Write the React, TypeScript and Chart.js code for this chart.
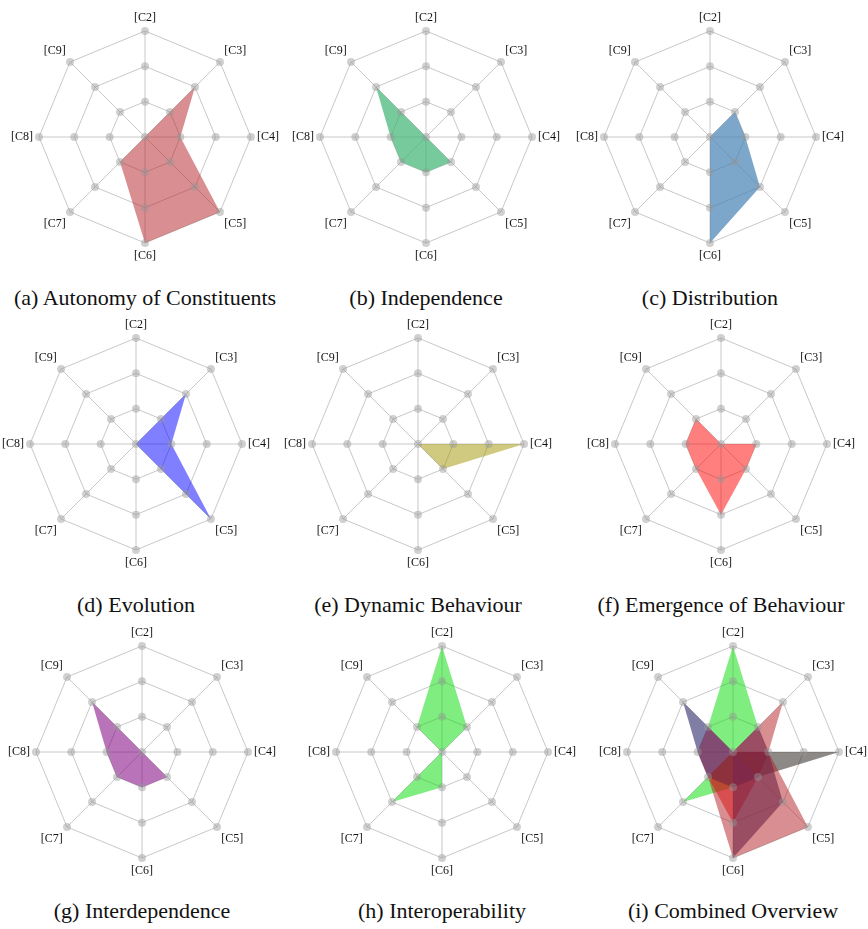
import React, { useEffect, useRef } from "react";
import { Chart, registerables } from "chart.js";

Chart.register(...registerables);

// ---------- data ----------
const AXES = ["[C2]", "[C3]", "[C4]", "[C5]", "[C6]", "[C7]", "[C8]", "[C9]"];
const RING_VALUES = [0, 1, 2, 3];

const autonomy = [0, 2, 1, 3, 3, 1, 0, 0];
const independence = [0, 0, 0, 1, 1, 1, 1, 2];
const distribution = [0, 1, 1, 2, 3, 0, 0, 0];
const evolution = [0, 2, 1, 3, 0, 0, 0, 0];
const dynamicBehaviour = [0, 0, 3, 1, 0, 0, 0, 0];
const emergence = [0, 0, 1, 1, 2, 1, 1, 1];
const interdependence = [0, 0, 0, 1, 1, 1, 1, 2];
const interoperability = [3, 1, 0, 0, 1, 2, 0, 1];

const CAPTIONS = [
  ["(a)", "Autonomy of Constituents"],
  ["(b)", "Independence"],
  ["(c)", "Distribution"],
  ["(d)", "Evolution"],
  ["(e)", "Dynamic Behaviour"],
  ["(f)", "Emergence of Behaviour"],
  ["(g)", "Interdependence"],
  ["(h)", "Interoperability"],
  ["(i)", "Combined Overview"],
];

// ---------- styles ----------
const C_AUTONOMY = "rgba(180,30,35,0.5)";
const C_INDEP = "rgba(60,179,113,0.7)";
const C_DISTR = "rgba(70,130,180,0.7)";
const C_EVOL = "rgba(0,0,255,0.5)";
const C_DYN = "rgba(160,150,0,0.5)";
const C_EMERG = "rgba(255,0,0,0.5)";
const C_INTERDEP = "rgba(128,0,128,0.55)";
const C_INTEROP = "rgba(0,220,0,0.5)";
const C_SLATE = "rgba(45,40,105,0.6)";
const C_GREY = "rgba(45,40,35,0.55)";

type DS = { data: number[]; color: string };

const PANELS: { cx: number; cy: number; sets: DS[] }[] = [
  { cx: 145, cy: 137, sets: [{ data: autonomy, color: C_AUTONOMY }] },
  { cx: 426, cy: 137, sets: [{ data: independence, color: C_INDEP }] },
  { cx: 710, cy: 137, sets: [{ data: distribution, color: C_DISTR }] },
  { cx: 136, cy: 444, sets: [{ data: evolution, color: C_EVOL }] },
  { cx: 418, cy: 444, sets: [{ data: dynamicBehaviour, color: C_DYN }] },
  { cx: 721, cy: 444, sets: [{ data: emergence, color: C_EMERG }] },
  { cx: 142, cy: 752, sets: [{ data: interdependence, color: C_INTERDEP }] },
  { cx: 442, cy: 752, sets: [{ data: interoperability, color: C_INTEROP }] },
  {
    cx: 733,
    cy: 752,
    sets: [
      { data: autonomy, color: C_AUTONOMY },
      { data: interdependence, color: C_SLATE },
      { data: distribution, color: C_SLATE },
      { data: dynamicBehaviour, color: C_GREY },
      { data: emergence, color: C_EMERG },
      { data: interoperability, color: C_INTEROP },
    ],
  },
];

const CAPTION_Y = [305, 612, 918];

const W = 268;
const H = 268;

const dotsPlugin = {
  id: "gridDots",
  afterDatasetsDraw(chart: any) {
    const s = chart.scales.r;
    const ctx = chart.ctx;
    ctx.save();
    ctx.fillStyle = "rgba(150,150,150,0.45)";
    for (const v of RING_VALUES) {
      const n = v === 0 ? 1 : AXES.length;
      for (let i = 0; i < n; i++) {
        const p = s.getPointPosition(i, s.getDistanceFromCenterForValue(v));
        ctx.beginPath();
        ctx.arc(p.x, p.y, 4, 0, Math.PI * 2);
        ctx.fill();
      }
    }
    ctx.restore();
  },
};

function Radar({ sets }: { sets: DS[] }) {
  const ref = useRef<HTMLCanvasElement>(null);
  useEffect(() => {
    if (!ref.current) return;
    const chart = new Chart(ref.current, {
      type: "radar",
      data: {
        labels: AXES,
        datasets: sets.map((s) => ({
          data: s.data,
          backgroundColor: s.color,
          borderWidth: 0,
          borderColor: "rgba(0,0,0,0)",
          pointRadius: 0,
          fill: true,
        })),
      },
      options: {
        responsive: false,
        animation: false,
        plugins: { legend: { display: false }, tooltip: { enabled: false } },
        layout: { padding: 0 },
        scales: {
          r: {
            min: RING_VALUES[0],
            max: RING_VALUES[RING_VALUES.length - 1],
            ticks: { stepSize: 1, display: false },
            grid: { color: "#c8c8c8", lineWidth: 1 },
            angleLines: { color: "#c8c8c8", lineWidth: 1 },
            pointLabels: {
              color: "#111",
              padding: 6,
              font: { family: "'Liberation Serif', 'Times New Roman', serif", size: 12 },
            },
          },
        },
      },
      plugins: [dotsPlugin],
    });
    return () => chart.destroy();
  }, [sets]);
  return <canvas ref={ref} width={W} height={H} style={{ width: W, height: H, display: "block" }} />;
}

export default function App() {
  return (
    <div
      style={{
        position: "absolute",
        left: 0,
        top: 0,
        width: 868,
        height: 929,
        background: "#fff",
        overflow: "hidden",
      }}
    >
      {PANELS.map((p, i) => (
        <React.Fragment key={i}>
          <div style={{ position: "absolute", left: p.cx - W / 2, top: p.cy - H / 2 }}>
            <Radar sets={p.sets} />
          </div>
          <div
            style={{
              position: "absolute",
              left: p.cx - 150,
              width: 300,
              top: CAPTION_Y[Math.floor(i / 3)] - 20,
              textAlign: "center",
              fontFamily: "'Liberation Serif', 'Times New Roman', serif",
              fontSize: 22,
              lineHeight: "25px",
              color: "#111",
              whiteSpace: "nowrap",
            }}
          >
            {CAPTIONS[i][0]} {CAPTIONS[i][1]}
          </div>
        </React.Fragment>
      ))}
    </div>
  );
}
